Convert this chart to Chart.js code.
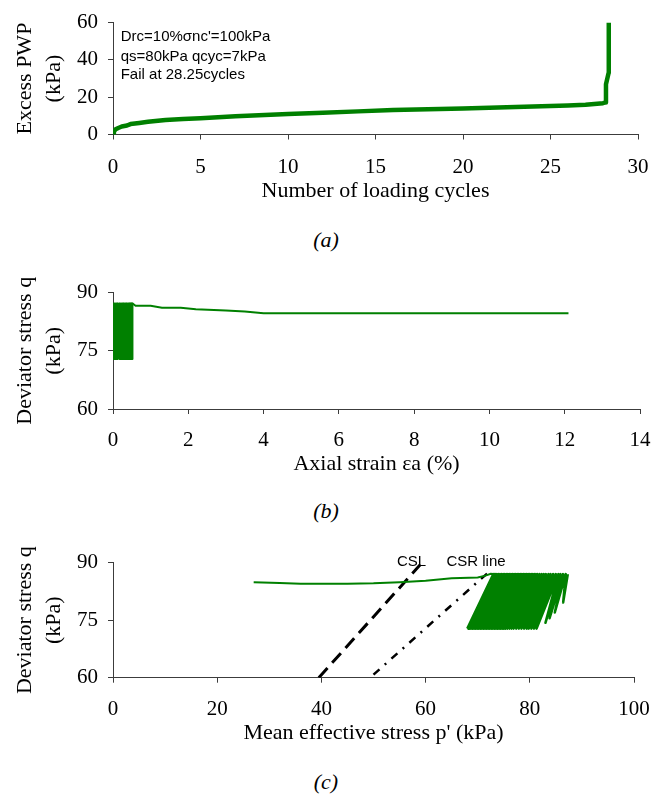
<!DOCTYPE html>
<html>
<head>
<meta charset="utf-8">
<script src="https://cdn.jsdelivr.net/npm/chart.js@4.4.1/dist/chart.umd.min.js"></script>
<style>
  body { margin: 0; background: #fff; width: 668px; height: 796px; position: relative; overflow: hidden; }
  .panel { position: absolute; left: 0; }
  .cap { position: absolute; left: 0; width: 652px; text-align: center; line-height: 26px;
         font: italic 22px "Liberation Serif", "Times New Roman", serif; }
</style>
</head>
<body>
<div class="panel" style="top:0px"><canvas id="chartA" width="668" height="204"></canvas></div>
<div class="cap" style="top:227px">(a)</div>
<div class="panel" style="top:270px"><canvas id="chartB" width="668" height="207"></canvas></div>
<div class="cap" style="top:498px">(b)</div>
<div class="panel" style="top:540px"><canvas id="chartC" width="668" height="206"></canvas></div>
<div class="cap" style="top:769px">(c)</div>

<script>
// ---- (a) excess pore pressure vs number of cycles
const xTicksA = [0, 5, 10, 15, 20, 25, 30];
const yTicksA = [0, 20, 40, 60];
const cyclesA = [0, 0.05, 0.15, 0.3, 0.5, 0.8, 1, 1.5, 2, 3, 4, 5, 6, 7, 8, 9, 10, 12, 14, 16, 18, 20, 22, 24, 26, 27, 28, 28.15, 28.17, 28.32, 28.33];
const pwpA = [0, 1.5, 2.8, 3.5, 4.3, 4.8, 5.6, 6.2, 6.8, 7.8, 8.3, 8.7, 9.3, 9.8, 10.2, 10.6, 11.0, 11.7, 12.4, 13.1, 13.6, 14.0, 14.5, 15.0, 15.6, 16.0, 16.8, 17.2, 27, 33, 60];
const notesA = ["Drc=10%σnc'=100kPa", 'qs=80kPa qcyc=7kPa', 'Fail at 28.25cycles'];

// ---- (b) deviator stress vs axial strain
const xTicksB = [0, 2, 4, 6, 8, 10, 12, 14];
const yTicksB = [60, 75, 90];
const cycleStrainB = [0.01, 0.04, 0.06, 0.09, 0.11, 0.13, 0.16, 0.18, 0.2, 0.23, 0.25, 0.27, 0.29, 0.31, 0.33, 0.35, 0.37, 0.39, 0.41, 0.43, 0.44, 0.46, 0.47, 0.49, 0.5, 0.51, 0.52];
const qMaxB = 87.2;
const qMinB = 72.9;
const strainTailB = [0.52, 0.6, 1.0, 1.3, 1.8, 2.2, 3.0, 3.5, 4.0, 12.1];
const qTailB = [87.2, 86.6, 86.6, 86.1, 86.1, 85.7, 85.4, 85.1, 84.7, 84.7];

// ---- (c) stress path
const xTicksC = [0, 20, 40, 60, 80, 100];
const yTicksC = [60, 75, 90];
const qHighC = 87.0;
const pHighC = [87.3, 86.9, 86.4, 85.9, 85.5, 85.0, 84.5, 84.0, 83.6, 83.1, 82.7, 82.3, 81.9, 81.5, 81.2, 80.9, 80.6, 80.3, 80.0, 79.7, 79.4, 79.1, 78.8, 78.5, 78.2, 77.9, 77.6, 77.3, 77.0, 76.7, 76.4, 76.1, 75.8, 75.5, 75.2, 74.9, 74.6, 74.3, 74.0, 73.7, 73.4, 73.2, 73.0];
const pLowC = [86.4, 84.8, 83.8, 83.0, 81.3, 80.8, 80.3, 79.8, 79.4, 78.9, 78.4, 77.9, 77.4, 76.9, 76.5, 76.1, 75.7, 75.3, 75.0, 74.7, 74.4, 74.1, 73.8, 73.5, 73.2, 72.9, 72.6, 72.3, 72.0, 71.7, 71.4, 71.1, 70.8, 70.5, 70.2, 69.9, 69.6, 69.3, 69.0, 68.7, 68.4, 68.2, 68.0];
const qLowC = [79.6, 77.0, 75.5, 74.3, 72.8, 72.8, 72.8, 72.8, 72.8, 72.8, 72.8, 72.8, 72.8, 72.8, 72.8, 72.8, 72.8, 72.8, 72.8, 72.8, 72.8, 72.8, 72.8, 72.8, 72.8, 72.8, 72.8, 72.8, 72.8, 72.8, 72.8, 72.8, 72.8, 72.8, 72.8, 72.8, 72.8, 72.8, 72.8, 72.8, 72.8, 72.8, 72.8];
const pTailC = [73.0, 72.5, 71.5, 70, 65, 60, 55, 50, 45, 36, 32, 27];
const qTailC = [87.0, 87.1, 86.6, 86.1, 85.9, 85.3, 84.9, 84.6, 84.5, 84.5, 84.7, 84.9];
const pCSL = [39.5, 59.0];
const qCSL = [60.0, 89.5];
const pCSR = [50.0, 72.5];
const qCSR = [60.8, 88.0];

const serif = '"Liberation Serif", "Times New Roman", Times, serif';
const sans = '"Liberation Sans", Arial, Helvetica, sans-serif';
const axisColor = '#3c3c3c';
const green = '#008000';

const pts = (xs, ys) => xs.map((x, i) => ({ x, y: ys[i] }));

// cyclic loops: each cycle goes up to the peak and back down
const bandB = [];
cycleStrainB.forEach(e => { bandB.push({ x: e, y: qMaxB }); bandB.push({ x: e, y: qMinB }); });
const loopsC = [];
pHighC.forEach((p, i) => { loopsC.push({ x: p, y: qHighC }); loopsC.push({ x: pLowC[i], y: qLowC[i] }); });

// text drawn at data coordinates
const notesPlugin = {
  id: 'notes',
  afterDraw(chart, args, opts) {
    const ctx = chart.ctx;
    ctx.save();
    ctx.font = opts.font;
    ctx.fillStyle = '#000';
    ctx.textBaseline = 'alphabetic';
    (opts.items || []).forEach(it => {
      ctx.textAlign = it.align || 'left';
      ctx.fillText(it.text, chart.scales.x.getPixelForValue(it.x), chart.scales.y.getPixelForValue(it.y));
    });
    ctx.restore();
  }
};

function xAxis(ticks, title, height, pad) {
  return {
    type: 'linear',
    min: ticks[0],
    max: ticks[ticks.length - 1],
    afterBuildTicks: s => { s.ticks = ticks.map(v => ({ value: v })); },
    afterFit: s => { s.height = height; },
    border: { display: true, color: axisColor, width: 1 },
    grid: { display: true, drawOnChartArea: false, drawTicks: true, tickLength: 5, color: axisColor },
    ticks: { color: '#000', font: { family: serif, size: 21 }, padding: pad, maxRotation: 0, autoSkip: false },
    title: { display: true, text: title, color: '#000', font: { family: serif, size: 22 }, padding: 0 }
  };
}

function yAxis(ticks, title) {
  return {
    type: 'linear',
    min: ticks[0],
    max: ticks[ticks.length - 1],
    afterBuildTicks: s => { s.ticks = ticks.map(v => ({ value: v })); },
    afterFit: s => { s.width = 113; },
    border: { display: true, color: axisColor, width: 1 },
    grid: { display: true, drawOnChartArea: false, drawTicks: true, tickLength: 5, color: axisColor },
    ticks: { color: '#000', font: { family: serif, size: 21 }, padding: 10, autoSkip: false },
    title: { display: true, text: title, color: '#000', font: { family: serif, size: 22, lineHeight: 29 / 22 }, padding: { top: 11, bottom: 0 } }
  };
}

function baseOptions(padTop, padRight, scales, notes) {
  return {
    responsive: false,
    animation: false,
    devicePixelRatio: 1,
    layout: { padding: { top: padTop, right: padRight, left: 0, bottom: 0 } },
    elements: { point: { radius: 0, hoverRadius: 0 }, line: { tension: 0 } },
    plugins: { legend: { display: false }, tooltip: { enabled: false }, notes },
    scales
  };
}

new Chart(document.getElementById('chartA'), {
  type: 'scatter',
  data: {
    datasets: [{
      data: pts(cyclesA, pwpA), showLine: true, borderColor: green, borderWidth: 4.5,
      borderJoinStyle: 'round'
    }]
  },
  options: baseOptions(15, 30, {
    x: xAxis(xTicksA, 'Number of loading cycles', 69.5, 15.5),
    y: yAxis(yTicksA, ['Excess PWP', '(kPa)'])
  }, {
    font: '15px ' + sans,
    items: [
      { text: notesA[0], x: 0.44, y: 50.0 },
      { text: notesA[1], x: 0.44, y: 39.3 },
      { text: notesA[2], x: 0.44, y: 29.5 }
    ]
  }),
  plugins: [notesPlugin]
});

new Chart(document.getElementById('chartB'), {
  type: 'scatter',
  data: {
    datasets: [
      { data: bandB, showLine: true, borderColor: green, borderWidth: 2, borderJoinStyle: 'round' },
      { data: pts(strainTailB, qTailB), showLine: true, borderColor: green, borderWidth: 2 }
    ]
  },
  options: baseOptions(16, 28, {
    x: xAxis(xTicksB, 'Axial strain εa (%)', 68, 14),
    y: yAxis(yTicksB, ['Deviator stress q', '(kPa)'])
  }, { items: [] }),
  plugins: [notesPlugin]
});

new Chart(document.getElementById('chartC'), {
  type: 'scatter',
  data: {
    datasets: [
      { data: loopsC, showLine: true, borderColor: green, borderWidth: 2.5, borderJoinStyle: 'round' },
      { data: pts(pTailC, qTailC), showLine: true, borderColor: green, borderWidth: 2 },
      { data: pts(pCSL, qCSL), showLine: true, borderColor: '#000', borderWidth: 3, borderDash: [13, 7] },
      { data: pts(pCSR, qCSR), showLine: true, borderColor: '#000', borderWidth: 2.5, borderDash: [8, 7, 2, 7] }
    ]
  },
  options: baseOptions(16, 34, {
    x: xAxis(xTicksC, "Mean effective stress p' (kPa)", 68.3, 14.5),
    y: yAxis(yTicksC, ['Deviator stress q', '(kPa)'])
  }, {
    font: '15px ' + sans,
    items: [
      { text: 'CSL', x: 57.3, y: 89.2, align: 'center' },
      { text: 'CSR line', x: 64.0, y: 89.1 }
    ]
  }),
  plugins: [notesPlugin]
});
</script>
</body>
</html>
